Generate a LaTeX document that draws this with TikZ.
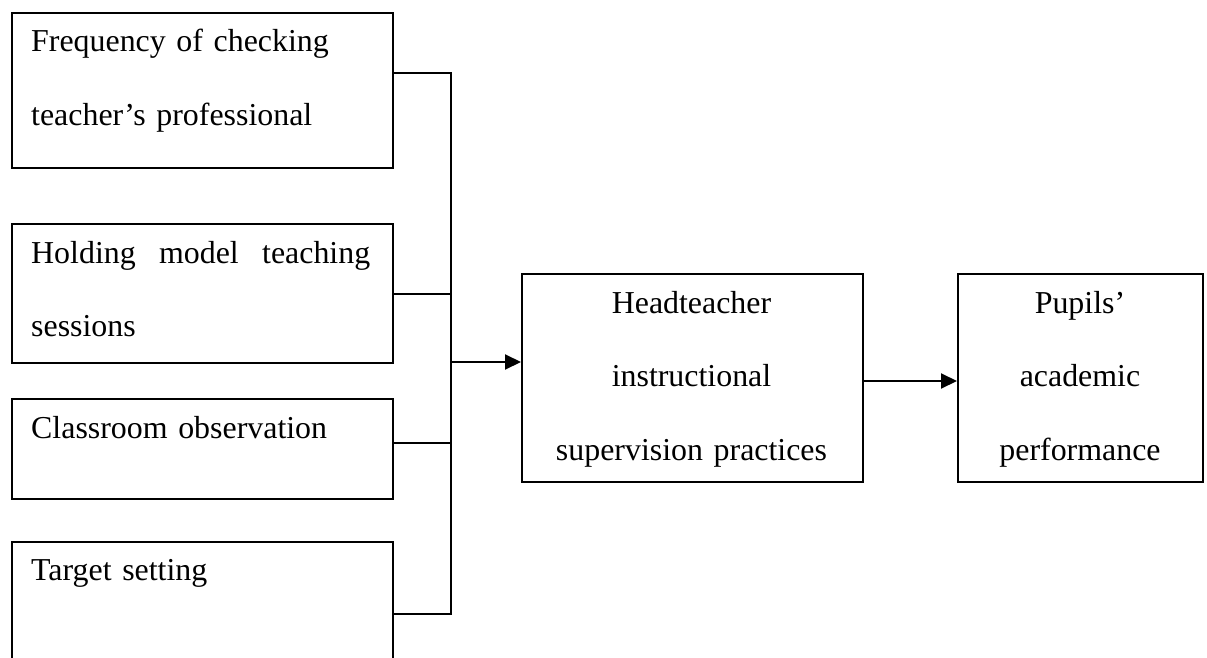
\documentclass[tikz,border=0pt]{standalone}
\usepackage{fontspec}
\setmainfont{Liberation Serif}
\usetikzlibrary{arrows.meta,calc}
\begin{document}
\begin{tikzpicture}[x=1pt,y=-1pt,
  frame/.style={draw, line width=2pt, inner sep=0pt, anchor=north west},
  txt/.style={font=\fontsize{31.9}{73.5}\selectfont, inner sep=0pt, text width=#1},
  conn/.style={line width=2pt},
  arr/.style={line width=2pt, -{Triangle[length=16pt,width=15pt]}}]
\useasboundingbox (0,0) rectangle (1207,658);
% left boxes
\node[frame, minimum width=381pt, minimum height=155pt] (b1) at (11,12) {};
\node[frame, minimum width=381pt, minimum height=139pt] (b2) at (11,223) {};
\node[frame, minimum width=381pt, minimum height=100pt] (b3) at (11,398) {};
\node[frame, minimum width=381pt, minimum height=146pt] (b4) at (11,541) {};
\node[txt=350pt, align=left, anchor=base west] (t1) at (31,52) {Frequency of checking\\teacher’s professional};
\node[txt=350pt, align=left, anchor=base west] (t2) at (31,263) {\hbox to 339pt{Holding\hfill model\hfill teaching}\\sessions};
\node[txt=350pt, align=left, anchor=base west] (t3) at (31,438) {Classroom observation};
\node[txt=350pt, align=left, anchor=base west] (t4) at (31,580) {Target setting};
% middle and right boxes
\node[frame, minimum width=341pt, minimum height=208pt] (head) at (521,273) {};
\node[txt=330pt, align=center, anchor=base] (th) at (691.5,313) {Headteacher\\instructional\\supervision practices};
\node[frame, minimum width=245pt, minimum height=208pt] (pupils) at (957,273) {};
\node[txt=240pt, align=center, anchor=base] (tp) at (1080,313) {Pupils’\\academic\\performance};
% connectors
\coordinate (jtop) at (451,73);
\coordinate (jbot) at (451,614);
\coordinate (jthree) at (451,443);
\coordinate (jmid) at (451,362);
\draw[conn] (b1.east |- jtop) -- (jtop) -- (jbot) -- (b4.east |- jbot);
\draw[conn] (b2.east) -- (b2.east -| jtop);
\draw[conn] (b3.east |- jthree) -- (jthree);
\draw[arr] (jmid) -- (head.west |- jmid);
\draw[arr] ([yshift=-3pt]head.east) -- ([yshift=-3pt]pupils.west);
\end{tikzpicture}
\end{document}
